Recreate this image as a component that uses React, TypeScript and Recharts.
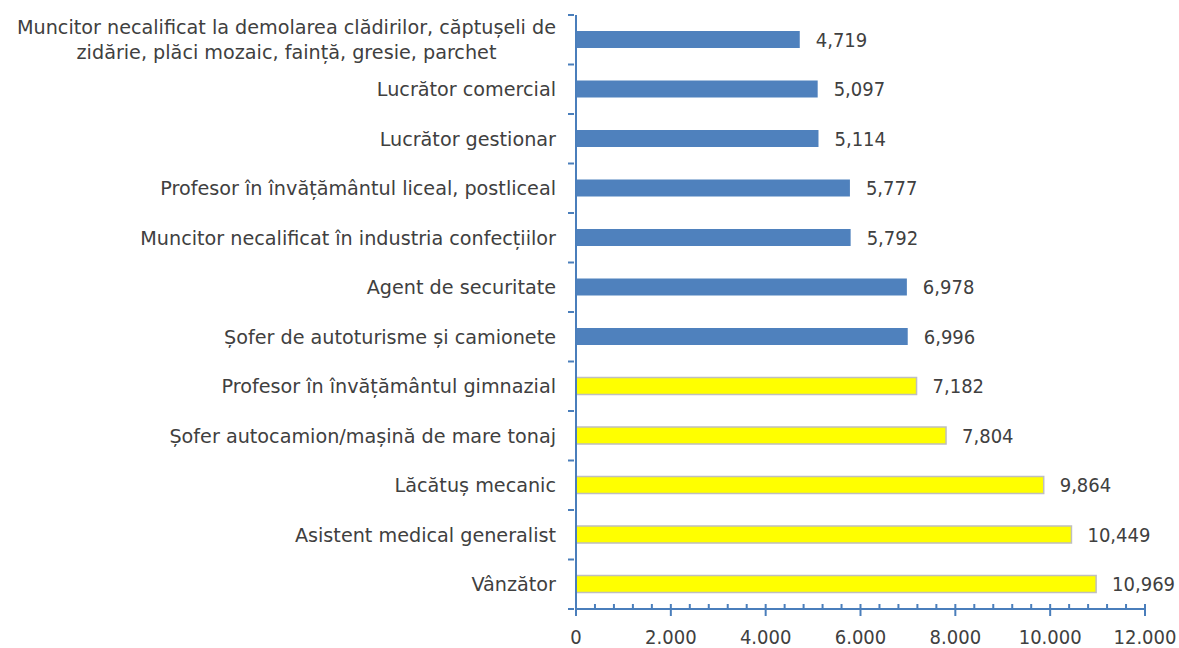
import { Bar, BarChart, Cell, LabelList, XAxis, YAxis } from "recharts";

const occupations = [
  "Muncitor necalificat la demolarea clădirilor, căptușeli de\nzidărie, plăci mozaic, faință, gresie, parchet",
  "Lucrător comercial",
  "Lucrător gestionar",
  "Profesor în învățământul liceal, postliceal",
  "Muncitor necalificat în industria confecțiilor",
  "Agent de securitate",
  "Șofer de autoturisme și camionete",
  "Profesor în învățământul gimnazial",
  "Șofer autocamion/mașină de mare tonaj",
  "Lăcătuș mecanic",
  "Asistent medical generalist",
  "Vânzător",
];
const vacancies = [4719, 5097, 5114, 5777, 5792, 6978, 6996, 7182, 7804, 9864, 10449, 10969];
const highlighted = [false, false, false, false, false, false, false, true, true, true, true, true];
const xTicks = [
  0, 400, 800, 1200, 1600, 2000, 2400, 2800, 3200, 3600, 4000, 4400, 4800, 5200, 5600, 6000,
  6400, 6800, 7200, 7600, 8000, 8400, 8800, 9200, 9600, 10000, 10400, 10800, 11200, 11600, 12000,
];
const labeledTicks = [0, 2000, 4000, 6000, 8000, 10000, 12000];

const data = occupations.map((name, i) => ({ name, value: vacancies[i], hi: highlighted[i] }));

const FONT = "'DejaVu Sans', sans-serif";
const FS = 19.2;
const NUM_FONT = "'DejaVu Sans Condensed', 'DejaVu Sans', sans-serif";
const NUM_FS = 20;
const TEXT = "#404040";
const AXIS = "#4A7EBB";
const TOP = 15;
const BOTTOM = 609;
const BAND = (BOTTOM - TOP) / occupations.length;

let ctx: CanvasRenderingContext2D | null = null;
function textWidth(s: string) {
  if (!ctx) ctx = document.createElement("canvas").getContext("2d");
  if (!ctx) return s.length * 9;
  ctx.font = `${FS}px ${FONT}`;
  return ctx.measureText(s).width;
}

function CategoryTick(props: any) {
  const { x, y, payload, index } = props;
  const lines = String(payload.value).split("\n");
  const right = x - 12;
  const edges = [y - BAND / 2];
  if (index === occupations.length - 1) edges.push(y + BAND / 2);
  let label;
  if (lines.length > 1) {
    const w = Math.max(...lines.map(textWidth));
    const cx = right - w / 2;
    label = (
      <text x={cx} y={y} textAnchor="middle" fontSize={FS} fontFamily={FONT} fill={TEXT}>
        {lines.map((l, i) => (
          <tspan key={i} x={cx} dy={i === 0 ? -5.5 : 25}>
            {l}
          </tspan>
        ))}
      </text>
    );
  } else {
    label = (
      <text x={right} y={y} dy={7} textAnchor="end" fontSize={FS} fontFamily={FONT} fill={TEXT}>
        {lines[0]}
      </text>
    );
  }
  return (
    <g>
      {edges.map((ey, i) => (
        <line key={i} x1={x} x2={x + 6} y1={ey} y2={ey} stroke={AXIS} strokeWidth={2} />
      ))}
      {label}
    </g>
  );
}

function ValueTick(props: any) {
  const { x, payload } = props;
  const major = labeledTicks.includes(payload.value);
  return (
    <g>
      <line x1={x} x2={x} y1={BOTTOM - 5} y2={major ? BOTTOM + 7 : BOTTOM} stroke={AXIS} strokeWidth={2} />
      {major && (
        <text x={x} y={BOTTOM + 35} textAnchor="middle" fontSize={NUM_FS} fontFamily={NUM_FONT} fill={TEXT}>
          {payload.value === 0 ? "0" : payload.value.toLocaleString("de-DE")}
        </text>
      )}
    </g>
  );
}

export default function App() {
  return (
    <div style={{ position: "absolute", left: 0, top: 0, width: 1179, height: 648, background: "#fff" }}>
      <BarChart
        width={1179}
        height={648}
        data={data}
        layout="vertical"
        margin={{ top: TOP, right: 34, bottom: 0, left: 0 }}
        barCategoryGap={0}
      >
        <XAxis
          type="number"
          domain={[0, 12000]}
          ticks={xTicks}
          interval={0}
          height={648 - BOTTOM}
          tick={<ValueTick />}
          tickLine={false}
          axisLine={{ stroke: AXIS, strokeWidth: 2 }}
        />
        <YAxis
          type="category"
          dataKey="name"
          width={576}
          interval={0}
          tick={<CategoryTick />}
          tickLine={false}
          axisLine={{ stroke: AXIS, strokeWidth: 2 }}
        />
        <Bar dataKey="value" barSize={17} isAnimationActive={false}>
          {data.map((d, i) => (
            <Cell
              key={i}
              fill={d.hi ? "#FFFF00" : "#4F81BD"}
              stroke={d.hi ? "#BFBFBF" : "none"}
              strokeWidth={d.hi ? 1.5 : 0}
            />
          ))}
          <LabelList
            dataKey="value"
            position="right"
            offset={16}
            formatter={(v: any) => Number(v).toLocaleString("en-US")}
            style={{ fontSize: NUM_FS, fontFamily: NUM_FONT, fill: TEXT }}
          />
        </Bar>
      </BarChart>
    </div>
  );
}
